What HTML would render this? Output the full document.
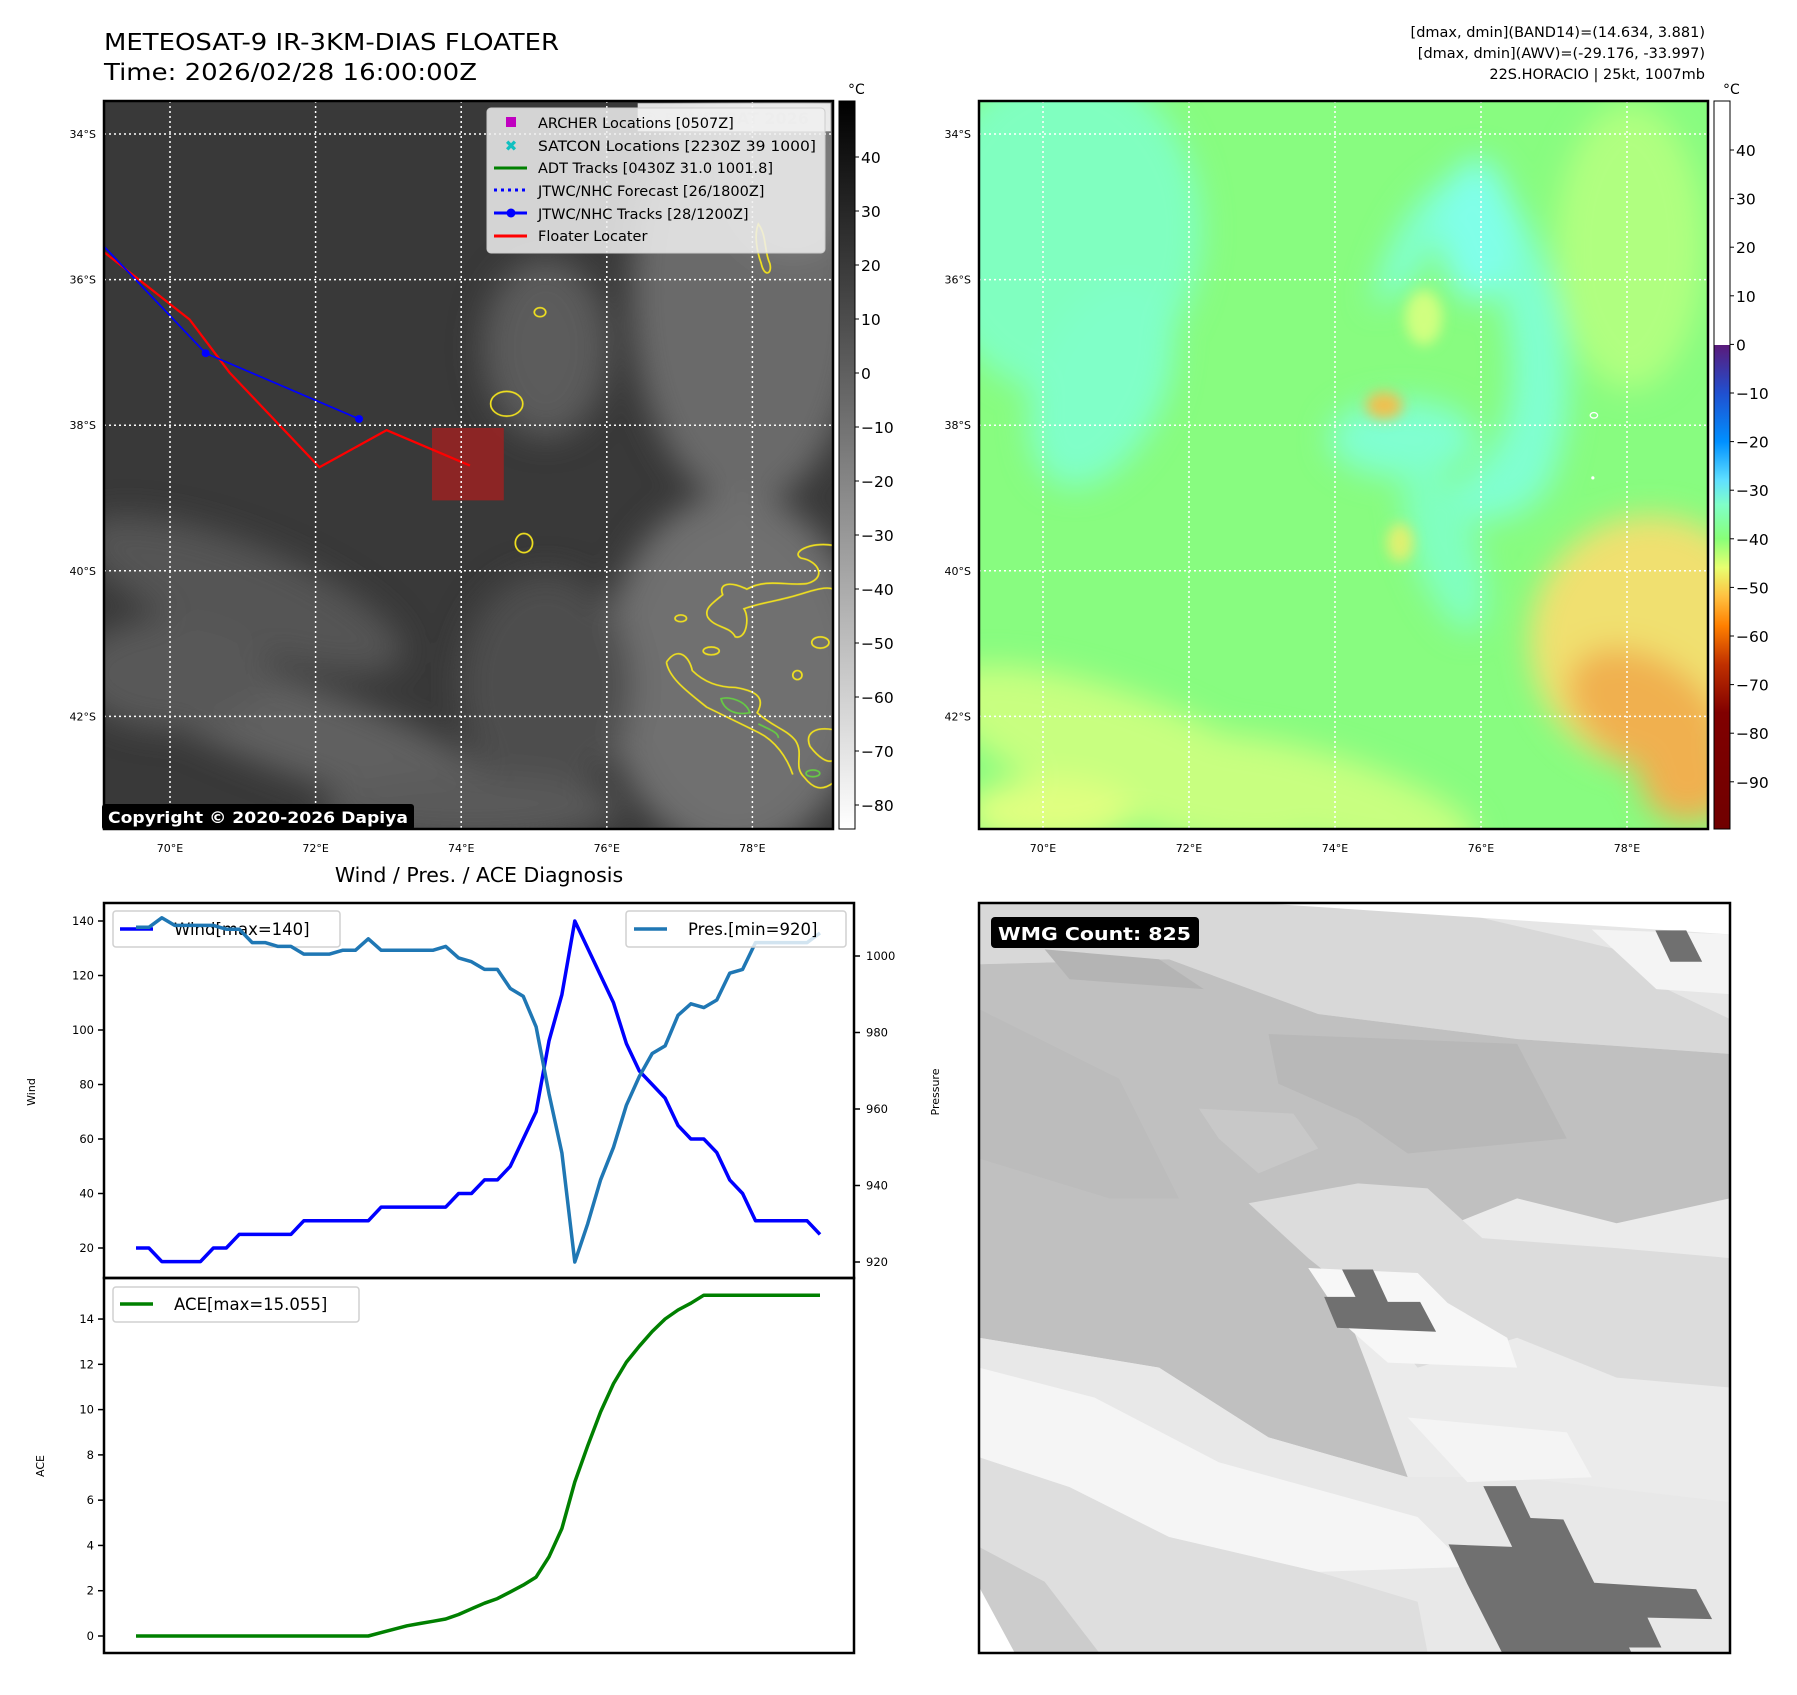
<!DOCTYPE html>
<html><head><meta charset="utf-8"><style>
html,body{margin:0;padding:0;background:#fff;}
svg text{font-family:"DejaVu Sans","Liberation Sans",sans-serif;}
</style></head><body>
<svg id="root" width="1797" height="1690" viewBox="0 0 1797 1690" xmlns="http://www.w3.org/2000/svg">
<defs>
  <filter id="blur1" x="-50%" y="-50%" width="200%" height="200%"><feGaussianBlur stdDeviation="28"/></filter>
  <filter id="blur2" x="-50%" y="-50%" width="200%" height="200%"><feGaussianBlur stdDeviation="12"/></filter>
  <linearGradient id="cbGray" x1="0" y1="0" x2="0" y2="1">
    <stop offset="0" stop-color="#000"/><stop offset="1" stop-color="#fff"/>
  </linearGradient>
  <linearGradient id="cbColor" x1="0" y1="0" x2="0" y2="1">
    <stop offset="0" stop-color="#5a1a7a"/>
    <stop offset="0.1" stop-color="#2050d0"/>
    <stop offset="0.2" stop-color="#0090ff"/>
    <stop offset="0.28" stop-color="#60e0ff"/>
    <stop offset="0.33" stop-color="#80ffc8"/>
    <stop offset="0.4" stop-color="#88ff78"/>
    <stop offset="0.46" stop-color="#e8ff70"/>
    <stop offset="0.52" stop-color="#ffc040"/>
    <stop offset="0.58" stop-color="#ff8000"/>
    <stop offset="0.66" stop-color="#c03000"/>
    <stop offset="0.76" stop-color="#800000"/>
    <stop offset="1" stop-color="#700000"/>
  </linearGradient>
  <clipPath id="clipL"><rect x="104" y="101" width="729" height="728"/></clipPath>
  <clipPath id="clipR"><rect x="979" y="101" width="729" height="728"/></clipPath>
  <clipPath id="clipW"><rect x="979" y="903" width="751" height="750"/></clipPath>
</defs>

<!-- Titles -->
<text x="104" y="50" font-size="23" textLength="455" lengthAdjust="spacingAndGlyphs">METEOSAT-9 IR-3KM-DIAS FLOATER</text>
<text x="104" y="80" font-size="23" textLength="373" lengthAdjust="spacingAndGlyphs">Time: 2026/02/28 16:00:00Z</text>
<text x="1705" y="37" font-size="14.5" text-anchor="end">[dmax, dmin](BAND14)=(14.634, 3.881)</text>
<text x="1705" y="58" font-size="14.5" text-anchor="end">[dmax, dmin](AWV)=(-29.176, -33.997)</text>
<text x="1705" y="79" font-size="14.5" text-anchor="end">22S.HORACIO | 25kt, 1007mb</text>

<!-- Left IR map -->
<g clip-path="url(#clipL)">
  <svg x="104" y="101" width="729" height="728" viewBox="181 181 1269 1296" preserveAspectRatio="none">
    <rect x="181" y="181" width="1269" height="1296" fill="#393939"/>
    <g filter="url(#blur1)">
      <ellipse cx="1300" cy="520" rx="200" ry="380" fill="#6a6a6a"/>
      <ellipse cx="1380" cy="300" rx="120" ry="160" fill="#7c7c7c"/>
      <ellipse cx="950" cy="620" rx="110" ry="160" fill="#5c5c5c"/>
      <ellipse cx="420" cy="1060" rx="300" ry="90" fill="#555" transform="rotate(22 420 1060)"/>
      <ellipse cx="520" cy="1300" rx="400" ry="80" fill="#606060" transform="rotate(20 520 1300)"/>
      <ellipse cx="300" cy="1200" rx="170" ry="100" fill="#585858"/>
      <ellipse cx="1280" cy="1200" rx="230" ry="320" fill="#707070"/>
      <ellipse cx="950" cy="1220" rx="150" ry="200" fill="#4e4e4e"/>
      <ellipse cx="820" cy="1440" rx="260" ry="60" fill="#5a5a5a"/>
    </g>
    <rect x="1110" y="185" width="336" height="50" fill="#ffffff" opacity="0.85"/>
    <g fill="none" stroke="#f0e020" stroke-width="3">
      <ellipse cx="882" cy="720" rx="28" ry="22"/>
      <ellipse cx="940" cy="557" rx="10" ry="8"/>
      <ellipse cx="912" cy="968" rx="15" ry="17"/>
      <ellipse cx="1185" cy="1102" rx="10" ry="6"/>
      <ellipse cx="1238" cy="1160" rx="14" ry="7"/>
      <ellipse cx="1388" cy="1203" rx="8" ry="8"/>
      <ellipse cx="1428" cy="1145" rx="15" ry="10"/>
      <path d="M1320,400 C1335,420 1330,450 1340,470 C1345,490 1330,495 1325,470 C1318,450 1312,420 1320,400 Z"/>
      <path d="M1450,972 C1410,965 1375,985 1395,995 C1425,1000 1440,1030 1405,1040 C1370,1045 1335,1030 1300,1050 C1270,1035 1250,1040 1258,1060 C1240,1075 1225,1085 1232,1100 C1245,1120 1270,1115 1280,1135 C1300,1140 1305,1100 1295,1085 C1320,1075 1360,1070 1390,1060 C1420,1050 1440,1045 1450,1050"/>
      <path d="M1160,1180 C1180,1150 1200,1170 1205,1195 C1225,1215 1250,1225 1280,1225 C1310,1230 1335,1240 1318,1270 C1345,1295 1370,1300 1385,1320 C1400,1345 1380,1365 1400,1385 C1415,1405 1430,1410 1450,1395 M1450,1300 C1420,1295 1400,1305 1410,1330 C1425,1350 1440,1360 1450,1355 M1160,1180 C1165,1210 1200,1235 1230,1260 C1260,1275 1290,1290 1320,1305 C1350,1320 1370,1350 1380,1380"/>
    </g>
    <g fill="none" stroke="#66cc44" stroke-width="3">
      <path d="M1255,1245 C1270,1240 1300,1250 1305,1270 C1280,1275 1260,1265 1255,1245 Z"/>
      <path d="M1320,1290 C1340,1300 1355,1305 1355,1315"/>
      <ellipse cx="1415" cy="1378" rx="12" ry="6"/>
    </g>
    <rect x="752" y="763" width="125" height="129" fill="#962424" opacity="0.9"/>
    <polyline points="181,450 330,570 400,665 556,833 673,767 818,830" fill="none" stroke="#ff0000" stroke-width="4"/>
    <polyline points="181,440 358,630 625,747" fill="none" stroke="#0000ff" stroke-width="3"/>
    <ellipse cx="358" cy="630" rx="7" ry="7" fill="#0000ff"/>
    <ellipse cx="625" cy="747" rx="7" ry="7" fill="#0000ff"/>
  </svg>
  <text x="642" y="124" font-size="16" font-weight="bold" fill="#dddddd">© EUMETSAT 2026</text>
  <g id="gridL"></g>
</g>
<rect x="104" y="101" width="729" height="728" fill="none" stroke="#000" stroke-width="2.5"/>

<!-- legend on IR map -->
<g>
  <rect x="487" y="108" width="338" height="145" rx="4" fill="#f0f0f0" fill-opacity="0.85" stroke="#cccccc"/>
  <rect x="506" y="117" width="10" height="10" fill="#c000c0"/>
  <text x="511" y="151" font-size="15" font-weight="bold" fill="#10c0c0" text-anchor="middle">✖</text>
  <line x1="494" y1="168" x2="527" y2="168" stroke="#008000" stroke-width="3"/>
  <line x1="494" y1="190" x2="527" y2="190" stroke="#0000ff" stroke-width="3" stroke-dasharray="3,4"/>
  <line x1="494" y1="213" x2="527" y2="213" stroke="#0000ff" stroke-width="3"/>
  <circle cx="511" cy="213" r="4.5" fill="#0000ff"/>
  <line x1="494" y1="236" x2="527" y2="236" stroke="#ff0000" stroke-width="3"/>
  <g font-size="14.5" fill="#000">
    <text x="538" y="128">ARCHER Locations [0507Z]</text>
    <text x="538" y="151" textLength="278" lengthAdjust="spacingAndGlyphs">SATCON Locations [2230Z 39 1000]</text>
    <text x="538" y="173">ADT Tracks [0430Z 31.0 1001.8]</text>
    <text x="538" y="196">JTWC/NHC Forecast [26/1800Z]</text>
    <text x="538" y="219">JTWC/NHC Tracks [28/1200Z]</text>
    <text x="538" y="241">Floater Locater</text>
  </g>
</g>
<g>
  <rect x="102" y="804" width="312" height="26" rx="3" fill="#000"/>
  <text x="108" y="823" font-size="16" font-weight="bold" fill="#fff" textLength="300" lengthAdjust="spacingAndGlyphs">Copyright © 2020-2026 Dapiya</text>
</g>

<!-- Left colorbar -->
<rect x="839" y="101" width="16" height="728" fill="url(#cbGray)" stroke="#000" stroke-width="1"/>
<text x="848" y="94" font-size="14">°C</text>
<g id="cbTicksL"></g>

<!-- Right AWV map -->
<g clip-path="url(#clipR)">
  <svg x="979" y="101" width="729" height="728" viewBox="18 185 1380 1327" preserveAspectRatio="none">
    <rect x="18" y="185" width="1380" height="1327" fill="#88fc80"/>
    <g filter="url(#blur1)">
      <ellipse cx="180" cy="420" rx="260" ry="300" fill="#80ffc0"/>
      <ellipse cx="250" cy="700" rx="120" ry="200" fill="#80ffc8" transform="rotate(25 250 700)"/>
      <path d="M760,560 C820,320 960,250 1050,400 C1120,520 1170,700 1100,880 C1040,980 900,960 860,900 C980,880 1050,780 1020,600 C990,420 900,360 840,520 Z" fill="#80ffd0"/>
      <ellipse cx="960" cy="420" rx="70" ry="130" fill="#80ffe8"/>
      <ellipse cx="820" cy="800" rx="140" ry="70" fill="#80ffd0"/>
      <ellipse cx="900" cy="1000" rx="60" ry="160" fill="#80ffc0" transform="rotate(-20 900 1000)"/>
      <ellipse cx="1250" cy="450" rx="140" ry="260" fill="#b0ff80"/>
      <ellipse cx="1290" cy="1170" rx="230" ry="230" fill="#f0e070"/>
      <ellipse cx="1280" cy="1300" rx="160" ry="100" fill="#f0b050" transform="rotate(30 1280 1300)"/>
      <ellipse cx="1360" cy="1420" rx="90" ry="80" fill="#f0b050"/>
      <ellipse cx="300" cy="1380" rx="380" ry="110" fill="#c8ff80" transform="rotate(20 300 1380)"/>
      <ellipse cx="650" cy="1450" rx="320" ry="80" fill="#c8ff80" transform="rotate(15 650 1450)"/>
      <ellipse cx="150" cy="1480" rx="160" ry="60" fill="#e0ff80"/>
    </g>
    <g filter="url(#blur2)">
      <ellipse cx="785" cy="740" rx="35" ry="25" fill="#f0c050"/>
      <ellipse cx="815" cy="990" rx="25" ry="35" fill="#e0f070"/>
      <ellipse cx="860" cy="580" rx="35" ry="50" fill="#d0ff80"/>
    </g>
    <ellipse cx="1182" cy="758" rx="7" ry="5" fill="none" stroke="#fff" stroke-width="2.5"/>
    <ellipse cx="1180" cy="872" rx="3" ry="3" fill="#fff"/>
  </svg>
  <g id="gridR"></g>
</g>
<rect x="979" y="101" width="729" height="728" fill="none" stroke="#000" stroke-width="2.5"/>

<!-- Right colorbar -->
<rect x="1714" y="101" width="16" height="244" fill="#ffffff"/>
<rect x="1714" y="345" width="16" height="484" fill="url(#cbColor)"/>
<rect x="1714" y="101" width="16" height="728" fill="none" stroke="#000" stroke-width="1"/>
<text x="1723" y="94" font-size="14">°C</text>
<g id="cbTicksR"></g>

<!-- Diagnosis chart -->
<text x="479" y="882" font-size="20.5" text-anchor="middle">Wind / Pres. / ACE Diagnosis</text>
<g id="chart"></g>

<!-- WMG panel -->
<g clip-path="url(#clipW)">
  <svg x="979" y="903" width="751" height="750" viewBox="18 27 1510 1506" preserveAspectRatio="none">
    <rect x="18" y="27" width="1510" height="1506" fill="#ebebeb"/>
    <polygon points="18,27 1528,27 1528,330 1100,300 700,250 400,140 18,150" fill="#d8d8d8"/>
    <polygon points="900,27 1528,27 1528,260 1400,200 1300,120" fill="#e6e6e6"/>
    <polygon points="1250,80 1528,90 1528,210 1380,200" fill="#f4f4f4"/>
    <polygon points="18,150 400,140 700,250 1100,300 1528,330 1528,620 1300,670 1100,620 900,700 700,700 800,960 880,1180 600,1100 380,960 18,900" fill="#c0c0c0"/>
    <polygon points="200,180 470,200 380,140 150,120" fill="#b4b4b4"/>
    <polygon points="600,290 1100,310 1200,500 880,530 780,460 620,390" fill="#b8b8b8"/>
    <polygon points="18,240 300,380 420,620 280,620 18,540" fill="#bcbcbc"/>
    <polygon points="460,440 650,450 700,520 580,570 500,500" fill="#c8c8c8"/>
    <polygon points="560,630 780,590 920,600 1030,700 1300,720 1528,740 1528,1000 1300,980 1100,900 900,960 780,820 680,740" fill="#dcdcdc"/>
    <polygon points="18,900 380,960 600,1100 880,1180 1100,1180 1528,1230 1528,1533 18,1533" fill="#e8e8e8"/>
    <polygon points="18,960 250,1020 500,1150 900,1260 1000,1360 700,1370 400,1300 200,1200 18,1140" fill="#f5f5f5"/>
    <polygon points="680,760 900,770 960,830 1080,900 1100,960 840,950 760,880" fill="#f7f7f7"/>
    <polygon points="880,1060 1200,1090 1250,1180 1000,1190" fill="#f4f4f4"/>
    <polygon points="18,1140 200,1200 400,1300 700,1370 900,1430 920,1533 18,1533" fill="#dedede"/>
    <polygon points="18,1320 150,1390 260,1533 18,1533" fill="#cccccc"/>
    <polygon points="18,1400 90,1533 18,1533" fill="#ffffff"/>
    <polygon points="580,27 1528,27 1528,90" fill="#ffffff"/>
    <polygon points="1378,82 1440,82 1472,145 1408,145" fill="#707070"/>
    <polygon points="748,763 810,763 840,828 905,828 937,888 738,880 712,818 775,818" fill="#707070"/>
    <polygon points="1032,1198 1097,1198 1127,1262 1193,1265 1255,1392 1460,1405 1492,1465 1362,1462 1390,1522 1325,1522 1330,1533 1070,1533 1000,1395 962,1315 1090,1320" fill="#707070"/>
  </svg>
</g>
<rect x="979" y="903" width="751" height="750" fill="none" stroke="#000" stroke-width="2.5"/>
<g>
  <rect x="991" y="917" width="208" height="31" rx="4" fill="#000"/>
  <text x="998" y="940" font-size="18" font-weight="bold" fill="#fff" textLength="193" lengthAdjust="spacingAndGlyphs">WMG Count: 825</text>
</g>

<script>
// ---------- chart data ----------
const windValues = [20,20,15,15,15,15,20,20,25,25,25,25,25,30,30,30,30,30,30,35,35,35,35,35,35,40,40,45,45,50,60,70,96,113,140,130,120,110,95,85,80,75,65,60,60,55,45,40,30,30,30,30,30,25];
const presValues = [1007.5,1007.5,1010,1008,1008,1008,1008,1007,1007,1003.5,1003.5,1002.5,1002.5,1000.5,1000.5,1000.5,1001.5,1001.5,1004.5,1001.5,1001.5,1001.5,1001.5,1001.5,1002.5,999.5,998.5,996.5,996.5,991.5,989.5,981.5,964,948.5,920,930,941.5,950,961,968.5,974.5,976.5,984.5,987.5,986.5,988.5,995.5,996.5,1003.5,1003.5,1003.5,1003.5,1003.5,1006];
const aceValues = [0,0,0,0,0,0,0,0,0,0,0,0,0,0,0,0,0,0,0,0.15,0.3,0.45,0.55,0.65,0.75,0.95,1.2,1.45,1.65,1.95,2.25,2.6,3.5,4.75,6.8,8.4,9.9,11.15,12.1,12.8,13.45,14.0,14.4,14.7,15.055,15.055,15.055,15.055,15.055,15.055,15.055,15.055,15.055,15.055];
const windTicks = [20,40,60,80,100,120,140];
const presTicks = [920,940,960,980,1000];
const aceTicks = [0,2,4,6,8,10,12,14];
const lonTicks = ["70°E","72°E","74°E","76°E","78°E"];
const lonValues = [70,72,74,76,78];
const latTicks = ["34°S","36°S","38°S","40°S","42°S"];
const latValues = [34,36,38,40,42];
const irCbTicks = [40,30,20,10,0,-10,-20,-30,-40,-50,-60,-70,-80];
const awvCbTicks = [40,30,20,10,0,-10,-20,-30,-40,-50,-60,-70,-80,-90];

const NS = "http://www.w3.org/2000/svg";
function mk(tag, attrs, parent){ const e=document.createElementNS(NS,tag); for(const k in attrs) e.setAttribute(k,attrs[k]); parent.appendChild(e); return e; }
function fmt(v){ return v<0 ? "\u2212"+Math.abs(v) : String(v); }

// axis functions
const xIdx = i => 136 + i*(684/(windValues.length-1));
const yWind = v => 1248 - (v-20)*2.725;
const yPres = v => 956 + (1000-v)*3.825;
const yAce = v => 1636 - v*22.64;
const lonL = d => 170 + (d-70)*72.8;
const lonR = d => 1043 + (d-70)*73.0;
const latY = d => 134 + (d-34)*72.8;
const irCbY = v => 157 + (40-v)*5.4;
const awvCbY = v => 150 + (40-v)*4.86;

function grid(gid, lonF, x0, x1){
  const g = document.getElementById(gid);
  lonValues.forEach((d,i)=>{
    const l = mk('line',{x1:lonF(d),x2:lonF(d),y1:101,y2:829,stroke:'#fff','stroke-width':1.5,'stroke-dasharray':'2,3'},g);
    
    
  });
  latValues.forEach((d,i)=>{
    const l = mk('line',{x1:x0,x2:x1,y1:latY(d),y2:latY(d),stroke:'#fff','stroke-width':1.5,'stroke-dasharray':'2,3'},g);
    
    
  });
}
grid('gridL', lonL, 104, 833);
grid('gridR', lonR, 979, 1708);
const root = document.getElementById('root');
const tickG = mk('g',{},root);


lonValues.forEach((d,i)=>{
  [lonL, lonR].forEach(f=>{
    const t = mk('text',{x:f(d),y:852,'font-size':11,'text-anchor':'middle'},tickG);
    t.textContent = lonTicks[i];
    
    
  });
});
latValues.forEach((d,i)=>{
  [96, 971].forEach(x=>{
    const t = mk('text',{x:x,y:latY(d)+4,'font-size':11,'text-anchor':'end'},tickG);
    t.textContent = latTicks[i];
    
    
  });
});
const cbl = document.getElementById('cbTicksL');
irCbTicks.forEach(v=>{
  mk('line',{x1:855,x2:859,y1:irCbY(v),y2:irCbY(v),stroke:'#000'},cbl);
  const t = mk('text',{x:861,y:irCbY(v)+6,'font-size':15.5},cbl);
  t.textContent = fmt(v);
  
  
});
const cbr = document.getElementById('cbTicksR');
awvCbTicks.forEach(v=>{
  mk('line',{x1:1730,x2:1734,y1:awvCbY(v),y2:awvCbY(v),stroke:'#000'},cbr);
  const t = mk('text',{x:1736,y:awvCbY(v)+6,'font-size':15.5},cbr);
  t.textContent = fmt(v);
  
  
});

// ---------- diagnosis chart ----------
const ch = document.getElementById('chart');
function pts(arr, yf){ return arr.map((v,i)=>xIdx(i).toFixed(1)+','+yf(v).toFixed(1)).join(' '); }
mk('rect',{x:104,y:903,width:750,height:750,fill:'#fff'},ch);

windTicks.forEach(v=>{
  mk('line',{x1:98,x2:104,y1:yWind(v),y2:yWind(v),stroke:'#000','stroke-width':1.5},ch);
  const t = mk('text',{x:94,y:yWind(v)+4,'font-size':11.5,'text-anchor':'end'},ch);
  t.textContent = v;
  
  
});
presTicks.forEach(v=>{
  mk('line',{x1:854,x2:860,y1:yPres(v),y2:yPres(v),stroke:'#000','stroke-width':1.5},ch);
  const t = mk('text',{x:866,y:yPres(v)+4,'font-size':11.5},ch);
  t.textContent = v;
  
  
});
aceTicks.forEach(v=>{
  mk('line',{x1:98,x2:104,y1:yAce(v),y2:yAce(v),stroke:'#000','stroke-width':1.5},ch);
  const t = mk('text',{x:94,y:yAce(v)+4,'font-size':11.5,'text-anchor':'end'},ch);
  t.textContent = v;
  
  
});
const yl1 = mk('text',{x:0,y:0,'font-size':11,'text-anchor':'middle',transform:'translate(35,1092) rotate(-90)'},ch);
yl1.textContent='Wind';


const yl2 = mk('text',{x:0,y:0,'font-size':11,'text-anchor':'middle',transform:'translate(939,1092) rotate(-90)'},ch);
yl2.textContent='Pressure';


const yl3 = mk('text',{x:0,y:0,'font-size':11,'text-anchor':'middle',transform:'translate(44,1466) rotate(-90)'},ch);
yl3.textContent='ACE';



const wl = mk('polyline',{points:pts(windValues,yWind),fill:'none',stroke:'#0000ff','stroke-width':3.5,'stroke-linejoin':'round'},ch);


const wlg = mk('g',{},ch);


mk('rect',{x:113,y:911,width:227,height:36,rx:3,fill:'#fff','fill-opacity':0.8,stroke:'#d0d0d0','stroke-width':1.5},wlg);
mk('line',{x1:120,x2:153,y1:929,y2:929,stroke:'#0000ff','stroke-width':3.5},wlg);
const wt = mk('text',{x:174,y:935,'font-size':16.5},wlg); wt.textContent='Wind[max=140]';
const pl = mk('polyline',{points:pts(presValues,yPres),fill:'none',stroke:'#1f77b4','stroke-width':3.5,'stroke-linejoin':'round'},ch);


const plg = mk('g',{},ch);


mk('rect',{x:626,y:911,width:220,height:36,rx:3,fill:'#fff','fill-opacity':0.8,stroke:'#d0d0d0','stroke-width':1.5},plg);
mk('line',{x1:634,x2:667,y1:929,y2:929,stroke:'#1f77b4','stroke-width':3.5},plg);
const ptx = mk('text',{x:688,y:935,'font-size':16.5},plg); ptx.textContent='Pres.[min=920]';
const al = mk('polyline',{points:pts(aceValues,yAce),fill:'none',stroke:'#008000','stroke-width':3.5,'stroke-linejoin':'round'},ch);


const alg = mk('g',{},ch);


mk('rect',{x:113,y:1287,width:246,height:35,rx:3,fill:'#fff','fill-opacity':0.8,stroke:'#d0d0d0','stroke-width':1.5},alg);
mk('line',{x1:120,x2:153,y1:1304,y2:1304,stroke:'#008000','stroke-width':3.5},alg);
const at = mk('text',{x:174,y:1310,'font-size':16.5},alg); at.textContent='ACE[max=15.055]';
const f1 = mk('rect',{x:104,y:903,width:750,height:375,fill:'none',stroke:'#000','stroke-width':2.5},ch);


const f2 = mk('rect',{x:104,y:1278,width:750,height:375,fill:'none',stroke:'#000','stroke-width':2.5},ch);


</script>
</svg>
</body></html>
